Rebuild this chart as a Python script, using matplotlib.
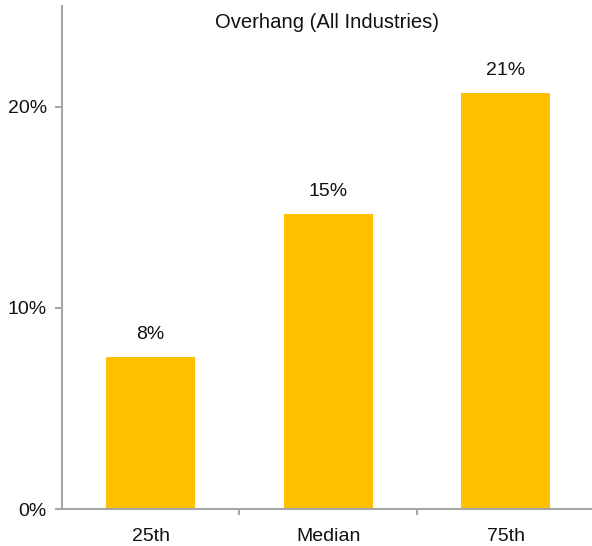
import matplotlib
matplotlib.use("Agg")
import matplotlib.pyplot as plt

categories = ["25th", "Median", "75th"]
values = [7.55, 14.65, 20.7]
labels = ["8%", "15%", "21%"]
yticks = [0, 10, 20]
ytick_labels = ["0%", "10%", "20%"]
title = "Overhang (All Industries)"

plt.rcParams['font.family'] = ['Liberation Sans', 'DejaVu Sans']

fig = plt.figure(figsize=(5.92, 5.46), dpi=100)
ax = fig.add_axes([62/592, 1-509/546, 1-62/592, (509-6)/546])

x = list(range(len(categories)))
bars = ax.bar(x, values, width=0.5, color="#FFC000", zorder=2)
for xi, v, lab in zip(x, values, labels):
    ax.annotate(lab, (xi, v), xytext=(0, 10), textcoords="offset points",
                ha="center", va="bottom", fontsize=14, color="#111111")

ax.set_xlim(-0.5, 2.486)
ax.set_ylim(0, 25)
ax.set_yticks(yticks)
ax.set_yticklabels(ytick_labels, fontsize=14, color="#111111")
ax.set_xticks(x)
ax.set_xticklabels(categories, fontsize=14, color="#111111")
ax.set_xticks([0.5, 1.5], minor=True)
ax.tick_params(axis='x', which='major', length=0, pad=14)
ax.tick_params(axis='x', which='minor', length=4, color="#a6a6a6", width=1.5, direction='out')
ax.tick_params(axis='y', length=5, color="#a6a6a6", width=1.5, direction='out', pad=6)

for s in ["top", "right"]:
    ax.spines[s].set_visible(False)
for s in ["left", "bottom"]:
    ax.spines[s].set_color("#a6a6a6")
    ax.spines[s].set_linewidth(1.5)

ax.text(0.5, 1 - 16/503, title, transform=ax.transAxes, ha="center", va="center",
        fontsize=14.6, color="#111111")

fig.savefig("out.png", dpi=100)
